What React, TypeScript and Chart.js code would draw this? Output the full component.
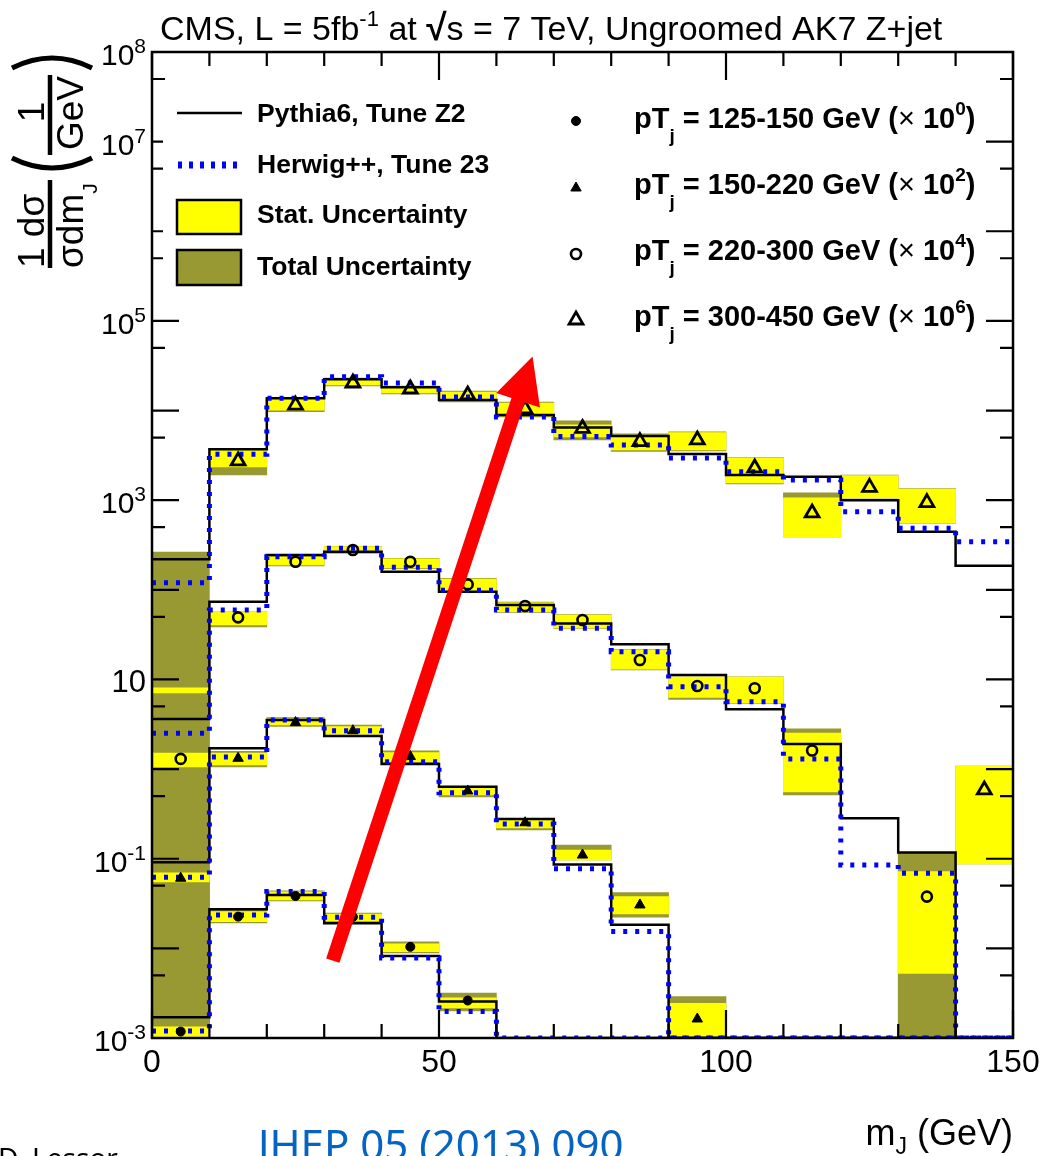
import { useEffect, useRef } from "react";
import { Chart, registerables } from "chart.js";

Chart.register(...registerables);

// ---- binning (m_J, GeV) ----
const BIN_EDGES = [0, 10, 20, 30, 40, 50, 60, 70, 80, 90, 100, 110, 120, 130, 140, 150];
const BIN_CENTERS = [5, 15, 25, 35, 45, 55, 65, 75, 85, 95, 105, 115, 125, 135, 145];

// ---- axes ----
const X_MIN = 0;
const X_MAX = 150;
const Y_MIN = 1e-3;
const Y_MAX = 1e8;
const X_MAJOR_TICKS = [0, 50, 100, 150];
const X_MINOR_TICKS = [10, 20, 30, 40, 60, 70, 80, 90, 110, 120, 130, 140];
const X_TICK_LABELS = ["0", "50", "100", "150"];
const Y_DECADE_TICKS = [1e-3, 1e-2, 1e-1, 1, 10, 1e2, 1e3, 1e4, 1e5, 1e6, 1e7, 1e8];
const Y_HALF_TICKS = [5e-3, 5e-2, 5e-1, 5, 50, 5e2, 5e3, 5e4, 5e5, 5e6, 5e7];
const Y_LABEL_EXPONENTS = [8, 7, 5, 3, 1, -1, -3];

// ---- pT_j = 125-150 GeV (x 10^0) ----
const A_DATA = [1.18e-3, 0.0226, 0.0384, 0.0224, 0.0104, 2.62e-3, null, null, null, null, null, null, null, null, null];
const A_STAT = [[1.03e-3, 1.33e-3], [0.0199, 0.0257], [0.0347, 0.0426], [0.0202, 0.0242], [9.2e-3, 0.0112], [2.16e-3, 2.8e-3], null, null, null, null, null, null, null, null, null];
const A_TOTAL = [[5e-4, 4e-3], [0.0192, 0.0268], [0.0338, 0.0437], [0.0197, 0.0248], [8.9e-3, 0.0118], [2.0e-3, 3.18e-3], null, null, null, null, null, null, null, null, null];
const A_PYTHIA = [1.7e-3, 0.0273, 0.0395, 0.0191, 8.2e-3, 2.56e-3, 0, 0, 0, 0, 0, 0, 0, 0, 0];
const A_HERWIG = [1.2e-3, 0.0236, 0.043, 0.0223, 7.8e-3, 1.97e-3, 0, 0, 0, 0, 0, 0, 0, 0, 0];

// ---- pT_j = 150-220 GeV (x 10^2) ----
const B_DATA = [0.0606, 1.32, 3.3, 2.68, 1.38, 0.57, 0.252, 0.11, 0.0305, 1.63e-3, null, null, null, null, null];
const B_STAT = [[0.0551, 0.0695], [1.11, 1.51], [3.11, 3.63], [2.4, 2.98], [1.21, 1.53], [0.514, 0.615], [0.22, 0.27], [0.097, 0.125], [0.0242, 0.0378], [5e-4, 2.44e-3], null, null, null, null, null];
const B_TOTAL = [[5e-4, 0.5], [1.06, 1.58], [3.0, 3.75], [2.3, 3.1], [1.16, 1.6], [0.49, 0.64], [0.21, 0.28], [0.097, 0.142], [0.0223, 0.0419], [5e-4, 2.89e-3], null, null, null, null, null];
const B_PYTHIA = [0.0914, 1.71, 3.53, 2.34, 1.14, 0.636, 0.278, 0.0864, 0.0183, 0, 0, 0, 0, 0, 0];
const B_HERWIG = [0.0622, 1.36, 3.53, 2.68, 1.21, 0.545, 0.244, 0.0773, 0.0154, 0, 0, 0, 0, 0, 0];

// ---- pT_j = 220-300 GeV (x 10^4) ----
const C_DATA = [1.3, 49.3, 206, 278, 206, 115, 65.9, 46.0, 16.5, 8.46, 7.98, 1.61, null, 0.0378, null];
const C_STAT = [[1.06, 1.51], [40.5, 57.0], [189, 234], [258, 303], [175, 221], [95.2, 132], [57.0, 71.8], [37.5, 52.3], [13.0, 21.3], [6.3, 10.6], [5.47, 10.6], [0.555, 2.53], null, [5.27e-3, 0.0718], null];
const C_TOTAL = [[5e-4, 40], [38.5, 57.0], [185, 236], [255, 306], [172, 224], [93, 134], [56, 73], [37, 53], [12.8, 21.6], [6.0, 10.6], [5.4, 10.7], [0.514, 2.81], null, [5e-4, 0.116], null];
const C_PYTHIA = [3.62, 73.7, 245, 266, 159, 95.2, 67.7, 42.1, 24.7, 11.2, 4.65, 1.91, 0.283, 0.117, 0];
const C_HERWIG = [2.51, 59.5, 234, 291, 178, 99, 59.5, 37.2, 20.4, 8.31, 5.65, 1.3, 0.0853, 0.0689, 0];

// ---- pT_j = 300-450 GeV (x 10^6) ----
const D_DATA = [null, 2740, 11500, 20300, 17400, 14900, 10400, 6310, 4500, 4700, 2290, 720, 1390, 938, 0.585];
const D_STAT = [[7.07, 8.04], [2350, 3730], [10100, 13800], [19300, 22500], [15700, 18300], [12800, 16100], [8710, 12100], [5080, 6910], [3640, 5340], [3640, 5670], [1560, 2960], [389, 1060], [1060, 1880], [561, 1334], [0.0875, 1.08]];
const D_TOTAL = [[5e-4, 264], [1910, 3730], [9700, 13900], [18800, 23000], [15300, 18800], [12500, 16500], [8500, 12400], [4700, 7660], [3500, 5500], [3550, 5800], [1520, 3000], [389, 1205], [1050, 1900], [555, 1350], [0.0875, 1.08]];
const D_PYTHIA = [219, 3700, 13700, 22300, 18200, 13100, 8930, 6480, 5210, 3280, 1910, 1820, 1000, 445, 185];
const D_HERWIG = [120, 3260, 13700, 23800, 20300, 14200, 8480, 5140, 4130, 2960, 2080, 1680, 744, 486, 344];

// ---- labels ----
const TITLE_PARTS = ["CMS, L = 5fb", "-1", " at ", "\u221A", "s = 7 TeV, Ungroomed AK7 Z+jet"];
const MODEL_LABELS = ["Pythia6, Tune Z2", "Herwig++, Tune 23", "Stat. Uncertainty", "Total Uncertainty"];
const PT_RANGES = ["125-150", "150-220", "220-300", "300-450"];
const PT_SCALE_EXPONENTS = ["0", "2", "4", "6"];
const REFERENCE_TEXT = "JHEP 05 (2013) 090";
const AUTHOR_TEXT = "D. Lessor";

// annotation arrow, in data coordinates (GeV, value)
const ARROW_TAIL = { x: 31.5, y: 7.3e-3 };
const ARROW_TIP = { x: 66.3, y: 4.0e4 };

// ---- styles ----
const YELLOW = "#ffff00";
const OLIVE = "#999933";
const BLUE = "#0000ff";
const RED = "#ff0000";
const FONT = '"Liberation Sans", Arial, Helvetica, sans-serif';
const SLIDE_FONT = '"Noto Sans", "Open Sans", sans-serif';

type Marker = { style: "circle" | "triangle"; radius: number; fill: string; border: string; width: number };
const MARKERS: Marker[] = [
  { style: "circle", radius: 4.5, fill: "#000000", border: "#000000", width: 1 },
  { style: "triangle", radius: 6, fill: "#000000", border: "#000000", width: 1 },
  { style: "circle", radius: 5, fill: "rgba(0,0,0,0)", border: "#000000", width: 2.6 },
  { style: "triangle", radius: 8, fill: "rgba(0,0,0,0)", border: "#000000", width: 2.8 },
];

type Range = number[] | null;
type Series = { data: (number | null)[]; stat: Range[]; total: Range[]; pythia: number[]; herwig: number[] };
const SERIES: Series[] = [
  { data: A_DATA, stat: A_STAT, total: A_TOTAL, pythia: A_PYTHIA, herwig: A_HERWIG },
  { data: B_DATA, stat: B_STAT, total: B_TOTAL, pythia: B_PYTHIA, herwig: B_HERWIG },
  { data: C_DATA, stat: C_STAT, total: C_TOTAL, pythia: C_PYTHIA, herwig: C_HERWIG },
  { data: D_DATA, stat: D_STAT, total: D_TOTAL, pythia: D_PYTHIA, herwig: D_HERWIG },
];

// empty bins of a log-scale histogram sit on the lower edge of the frame
const floorValue = (v: number) => (v > 0 ? v : Y_MIN);

const stepPoints = (vals: number[]) => [
  ...vals.map((v, i) => ({ x: BIN_EDGES[i], y: floorValue(v) })),
  { x: BIN_EDGES[vals.length], y: floorValue(vals[vals.length - 1]) },
];

const boxPoints = (ranges: Range[]) =>
  ranges.flatMap((r, i) => (r ? [{ x: BIN_CENTERS[i], y: [r[0], r[1]] }] : []));

const markerPoints = (vals: (number | null)[]) =>
  vals.flatMap((v, i) => (v == null ? [] : [{ x: BIN_CENTERS[i], y: v }]));

function buildDatasets() {
  const out: any[] = [];
  SERIES.forEach((s, k) => {
    const box = { type: "bar", grouped: false, barPercentage: 1, categoryPercentage: 1, borderWidth: 0 };
    out.push({ ...box, data: boxPoints(s.total), backgroundColor: OLIVE, order: 6 });
    out.push({ ...box, data: boxPoints(s.stat), backgroundColor: YELLOW, order: 5 });
    out.push({
      type: "line", data: stepPoints(s.pythia), stepped: true, borderColor: "#000000", borderWidth: 2.5,
      pointRadius: 0, fill: false, tension: 0, borderCapStyle: "butt", order: 3,
    });
    out.push({
      type: "line", data: stepPoints(s.herwig), stepped: true, borderColor: BLUE, borderWidth: 5,
      borderDash: [4, 8], pointRadius: 0, fill: false, tension: 0, borderCapStyle: "butt", order: 2,
    });
    const m = MARKERS[k];
    out.push({
      type: "scatter", data: markerPoints(s.data), showLine: false, pointStyle: m.style, pointRadius: m.radius,
      pointBackgroundColor: m.fill, pointBorderColor: m.border, pointBorderWidth: m.width, order: 1,
    });
  });
  return out;
}

// ---- text helpers ----
type Run = { t: string; size: number; bold?: boolean; dy?: number; family?: string };
const runFont = (r: Run) => `${r.bold ? "bold " : ""}${r.size}px ${r.family ?? FONT}`;

function drawRuns(ctx: CanvasRenderingContext2D, runs: Run[], x: number, y: number, align: "left" | "right" | "center" = "left") {
  ctx.textAlign = "left";
  ctx.textBaseline = "alphabetic";
  let w = 0;
  for (const r of runs) {
    ctx.font = runFont(r);
    w += ctx.measureText(r.t).width;
  }
  let cx = align === "left" ? x : align === "right" ? x - w : x - w / 2;
  for (const r of runs) {
    ctx.font = runFont(r);
    ctx.fillText(r.t, cx, y + (r.dy ?? 0));
    cx += ctx.measureText(r.t).width;
  }
}

function markerPath(ctx: CanvasRenderingContext2D, m: Marker, x: number, y: number) {
  ctx.beginPath();
  if (m.style === "circle") {
    ctx.arc(x, y, m.radius, 0, Math.PI * 2);
  } else {
    for (let k = 0; k < 3; k++) {
      const a = (k * 2 * Math.PI) / 3;
      const px = x + Math.sin(a) * m.radius;
      const py = y - Math.cos(a) * m.radius;
      if (k === 0) ctx.moveTo(px, py);
      else ctx.lineTo(px, py);
    }
    ctx.closePath();
  }
  ctx.fillStyle = m.fill;
  ctx.fill();
  ctx.lineWidth = m.width;
  ctx.strokeStyle = m.border;
  ctx.stroke();
}

function drawYTitle(ctx: CanvasRenderingContext2D) {
  ctx.save();
  ctx.translate(50, 0);
  ctx.rotate(-Math.PI / 2);
  ctx.fillStyle = "#000";
  ctx.strokeStyle = "#000";
  // 1/sigma dsigma/dm_J
  drawRuns(ctx, [{ t: "1 d\u03C3", size: 37 }], -268, -6, "left");
  drawRuns(ctx, [{ t: "\u03C3dm", size: 37 }, { t: "J", size: 21, dy: 14 }], -268, 33, "left");
  ctx.lineWidth = 4.5;
  ctx.beginPath();
  ctx.moveTo(-268, 0);
  ctx.lineTo(-180, 0);
  ctx.stroke();
  // (1/GeV)
  drawRuns(ctx, [{ t: "1", size: 37 }], -112, -6, "center");
  drawRuns(ctx, [{ t: "GeV", size: 37 }], -113, 33, "center");
  ctx.beginPath();
  ctx.moveTo(-155, 0);
  ctx.lineTo(-75, 0);
  ctx.stroke();
  ctx.lineWidth = 5;
  ctx.beginPath();
  ctx.moveTo(-158, -38);
  ctx.quadraticCurveTo(-178, 2, -158, 42);
  ctx.stroke();
  ctx.beginPath();
  ctx.moveTo(-68, -38);
  ctx.quadraticCurveTo(-48, 2, -68, 42);
  ctx.stroke();
  ctx.restore();
}

const decorations = {
  id: "rootDecorations",
  beforeDraw(chart: any) {
    const { ctx, width, height } = chart;
    ctx.save();
    ctx.fillStyle = "#ffffff";
    ctx.fillRect(0, 0, width, height);
    ctx.restore();
  },
  afterDatasetsDraw(chart: any) {
    const { ctx, chartArea: a } = chart;
    const xs = chart.scales.x;
    const ys = chart.scales.y;
    ctx.save();

    // frame
    ctx.strokeStyle = "#000";
    ctx.lineWidth = 2.5;
    ctx.strokeRect(a.left, a.top, a.right - a.left, a.bottom - a.top);

    // ticks on all four sides, pointing inwards
    ctx.lineWidth = 2.2;
    const xTick = (v: number, len: number) => {
      const px = xs.getPixelForValue(v);
      ctx.beginPath();
      ctx.moveTo(px, a.bottom);
      ctx.lineTo(px, a.bottom - len);
      ctx.moveTo(px, a.top);
      ctx.lineTo(px, a.top + len);
      ctx.stroke();
    };
    const yTick = (v: number, len: number) => {
      const py = ys.getPixelForValue(v);
      ctx.beginPath();
      ctx.moveTo(a.left, py);
      ctx.lineTo(a.left + len, py);
      ctx.moveTo(a.right, py);
      ctx.lineTo(a.right - len, py);
      ctx.stroke();
    };
    X_MINOR_TICKS.forEach((v) => xTick(v, 14));
    X_MAJOR_TICKS.forEach((v) => xTick(v, 28));
    Y_HALF_TICKS.forEach((v) => yTick(v, 13));
    Y_DECADE_TICKS.forEach((v) => yTick(v, 27));

    // tick labels
    ctx.fillStyle = "#000";
    X_MAJOR_TICKS.forEach((v, i) => {
      drawRuns(ctx, [{ t: X_TICK_LABELS[i], size: 32 }], xs.getPixelForValue(v), a.bottom + 34, "center");
    });
    Y_LABEL_EXPONENTS.forEach((e) => {
      const py = ys.getPixelForValue(Math.pow(10, e));
      const runs: Run[] = e === 1 ? [{ t: "10", size: 31 }] : [{ t: "10", size: 30 }, { t: String(e), size: 21, dy: -12 }];
      drawRuns(ctx, runs, a.left - 6, py + 13, "right");
    });

    // left legend box (white, over the axis ticks)
    ctx.fillStyle = "#ffffff";
    ctx.fillRect(163, 86, 340, 214);
    ctx.strokeStyle = "#000";
    ctx.lineWidth = 2.5;
    ctx.beginPath();
    ctx.moveTo(177, 113);
    ctx.lineTo(242, 113);
    ctx.stroke();
    ctx.strokeStyle = BLUE;
    ctx.lineWidth = 7;
    ctx.setLineDash([4, 7]);
    ctx.beginPath();
    ctx.moveTo(178, 165);
    ctx.lineTo(242, 165);
    ctx.stroke();
    ctx.setLineDash([]);
    ctx.strokeStyle = "#000";
    ctx.lineWidth = 2.5;
    ctx.fillStyle = YELLOW;
    ctx.fillRect(177, 200, 64, 34);
    ctx.strokeRect(177, 200, 64, 34);
    ctx.fillStyle = OLIVE;
    ctx.fillRect(177, 250, 64, 35);
    ctx.strokeRect(177, 250, 64, 35);
    ctx.fillStyle = "#000";
    const leftBase = [122, 173, 223, 275];
    MODEL_LABELS.forEach((t, i) => drawRuns(ctx, [{ t, size: 26.5, bold: true }], 257, leftBase[i]));

    // right legend (markers per pT_j range)
    const rightBase = [128, 194, 260, 326];
    const markerY = [121, 188, 254, 320];
    PT_RANGES.forEach((rng, i) => {
      markerPath(ctx, MARKERS[i], 576, markerY[i]);
      ctx.fillStyle = "#000";
      drawRuns(
        ctx,
        [
          { t: "pT", size: 29, bold: true },
          { t: "j", size: 19, bold: true, dy: 14 },
          { t: ` = ${rng} GeV (`, size: 29, bold: true },
          { t: "\u00D7", size: 29 },
          { t: " 10", size: 29, bold: true },
          { t: PT_SCALE_EXPONENTS[i], size: 19, bold: true, dy: -13 },
          { t: ")", size: 29, bold: true },
        ],
        634,
        rightBase[i],
      );
    });

    // axis titles and header
    ctx.fillStyle = "#000";
    drawRuns(ctx, [{ t: "m", size: 36 }, { t: "J", size: 23, dy: 9 }, { t: " (GeV)", size: 36 }], a.right, 1145, "right");
    drawYTitle(ctx);
    drawRuns(
      ctx,
      [
        { t: TITLE_PARTS[0], size: 34 },
        { t: TITLE_PARTS[1], size: 22, dy: -14 },
        { t: TITLE_PARTS[2], size: 34 },
        { t: TITLE_PARTS[3], size: 37, bold: true },
        { t: TITLE_PARTS[4], size: 34 },
      ],
      160,
      40,
    );

    // slide footer
    ctx.fillStyle = "#0563C1";
    drawRuns(ctx, [{ t: REFERENCE_TEXT, size: 42, family: SLIDE_FONT }], 258, 1160);
    ctx.fillStyle = "#000";
    drawRuns(ctx, [{ t: AUTHOR_TEXT, size: 28, family: SLIDE_FONT }], -2, 1168);

    // red annotation arrow
    const tx = xs.getPixelForValue(ARROW_TAIL.x);
    const ty = ys.getPixelForValue(ARROW_TAIL.y);
    const hx = xs.getPixelForValue(ARROW_TIP.x);
    const hy = ys.getPixelForValue(ARROW_TIP.y);
    const len = Math.hypot(hx - tx, hy - ty);
    const ux = (hx - tx) / len;
    const uy = (hy - ty) / len;
    const nx = -uy;
    const ny = ux;
    const headLen = 46;
    const headHalf = 23;
    const shaftHalf = 7;
    const bx = hx - ux * headLen;
    const by = hy - uy * headLen;
    ctx.fillStyle = RED;
    ctx.beginPath();
    ctx.moveTo(tx + nx * shaftHalf, ty + ny * shaftHalf);
    ctx.lineTo(bx + nx * shaftHalf, by + ny * shaftHalf);
    ctx.lineTo(bx + nx * headHalf, by + ny * headHalf);
    ctx.lineTo(hx, hy);
    ctx.lineTo(bx - nx * headHalf, by - ny * headHalf);
    ctx.lineTo(bx - nx * shaftHalf, by - ny * shaftHalf);
    ctx.lineTo(tx - nx * shaftHalf, ty - ny * shaftHalf);
    ctx.closePath();
    ctx.fill();

    ctx.restore();
  },
};

export default function App() {
  const ref = useRef<HTMLCanvasElement | null>(null);

  useEffect(() => {
    if (!ref.current) return;
    const chart = new Chart(ref.current, {
      type: "bar",
      data: { datasets: buildDatasets() },
      options: {
        animation: false,
        responsive: false,
        devicePixelRatio: 1,
        events: [],
        layout: { padding: { left: 152, right: 27, top: 52, bottom: 118 } },
        plugins: { legend: { display: false }, tooltip: { enabled: false }, title: { display: false } },
        scales: {
          x: { type: "linear", min: X_MIN, max: X_MAX, offset: false, display: false, ticks: { stepSize: 10 } },
          y: { type: "logarithmic", min: Y_MIN, max: Y_MAX, display: false },
        },
      } as any,
      plugins: [decorations],
    } as any);
    return () => chart.destroy();
  }, []);

  return (
    <div style={{ position: "absolute", left: 0, top: 0, width: 1040, height: 1156, background: "#ffffff", overflow: "hidden" }}>
      <canvas ref={ref} width={1040} height={1156} style={{ display: "block", width: 1040, height: 1156 }} />
    </div>
  );
}
